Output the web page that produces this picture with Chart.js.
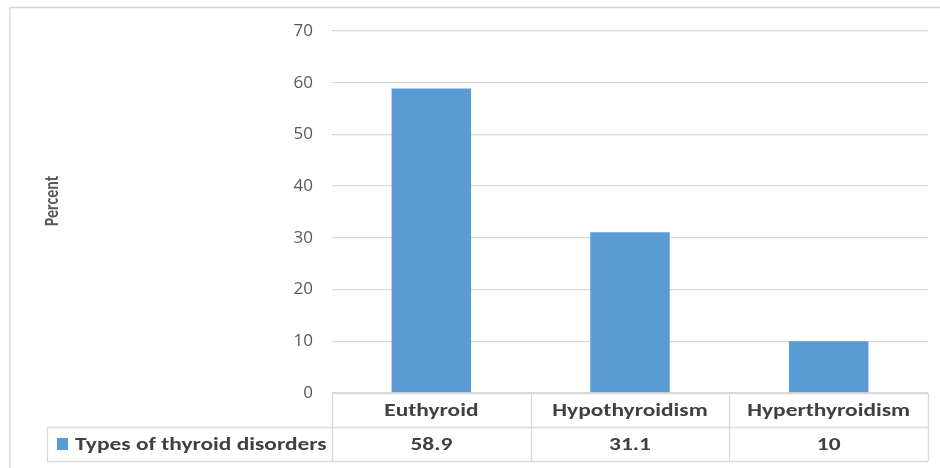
<!DOCTYPE html>
<html>
<head>
<meta charset="utf-8">
<script src="https://cdn.jsdelivr.net/npm/chart.js@4/dist/chart.umd.min.js"></script>
<style>
  html, body { margin: 0; padding: 0; background: #ffffff; }
  #wrap { width: 940px; height: 468px; position: relative; }
</style>
</head>
<body>
<div id="wrap"><canvas id="chart" width="940" height="468"></canvas></div>
<script>
// Thyroid status distribution (percent)
const categories = ['Euthyroid', 'Hypothyroidism', 'Hyperthyroidism'];
const seriesName = 'Types of thyroid disorders';
const seriesValues = [58.9, 31.1, 10];
const yTicks = [0, 10, 20, 30, 40, 50, 60, 70];
const yTitle = 'Percent';

const FONT = 'Carlito, Lato, "Open Sans", sans-serif';
const TICK_FONT = '"Open Sans", Lato, sans-serif';
const BAR = '#5b9bd5';
const LINE = '#d9d9d9';
const STRETCH = 1.3; // wide text proportions

// text drawn with a horizontal stretch, anchored at (x, y)
function wideText(ctx, str, x, y, align) {
  ctx.save();
  ctx.translate(x, y);
  ctx.scale(STRETCH, 1);
  ctx.textAlign = align;
  ctx.fillText(str, 0, 0);
  ctx.restore();
}

// Draws the frame, the axis title and the data table under the plot area
const dataTablePlugin = {
  id: 'dataTable',
  afterDraw(chart) {
    const ctx = chart.ctx;
    const area = chart.chartArea;
    const x = chart.scales.x;
    const n = categories.length;
    const colW = (area.right - area.left) / n;
    const rowH = 34;
    const top = area.bottom;
    const mid = top + rowH;
    const bot = top + rowH * 2;
    const legendLeft = 47;

    ctx.save();
    // outer frame
    ctx.strokeStyle = LINE;
    ctx.lineWidth = 1.5;
    ctx.beginPath();
    ctx.moveTo(10, 480);
    ctx.lineTo(10, 7.5);
    ctx.lineTo(950, 7.5);
    ctx.stroke();

    // table grid
    ctx.lineWidth = 1.3;
    ctx.beginPath();
    ctx.moveTo(area.left, top + 0.5); ctx.lineTo(area.right, top + 0.5);
    ctx.moveTo(legendLeft, mid + 0.5); ctx.lineTo(area.right, mid + 0.5);
    ctx.moveTo(legendLeft, bot + 0.5); ctx.lineTo(area.right, bot + 0.5);
    ctx.moveTo(legendLeft + 0.5, mid); ctx.lineTo(legendLeft + 0.5, bot);
    for (let i = 0; i <= n; i++) {
      const xx = Math.round(area.left + colW * i) + 0.5;
      ctx.moveTo(xx, top); ctx.lineTo(xx, bot);
    }
    ctx.stroke();

    // category header and values
    ctx.fillStyle = '#404040';
    ctx.textBaseline = 'middle';
    ctx.font = 'bold 18px ' + FONT;
    categories.forEach((c, i) => {
      const cx = x.getPixelForValue(i);
      wideText(ctx, c, cx, top + rowH / 2 + 1, 'center');
      wideText(ctx, String(seriesValues[i]), cx, mid + rowH / 2 + 1, 'center');
    });

    // legend key and series name
    ctx.fillStyle = BAR;
    ctx.fillRect(57, mid + 11, 11, 12);
    ctx.fillStyle = '#404040';
    wideText(ctx, seriesName, 75, mid + rowH / 2 + 1, 'left');

    // axis title
    ctx.translate(53, 201);
    ctx.rotate(-Math.PI / 2);
    ctx.scale(1, STRETCH);
    ctx.textAlign = 'center';
    ctx.fillStyle = '#595959';
    ctx.font = 'bold 16px ' + FONT;
    ctx.fillText(yTitle, 0, 0);
    ctx.restore();
  }
};

new Chart(document.getElementById('chart'), {
  type: 'bar',
  data: {
    labels: categories,
    datasets: [{
      label: seriesName,
      data: seriesValues,
      backgroundColor: BAR,
      borderWidth: 0,
      categoryPercentage: 1,
      barPercentage: 0.4
    }]
  },
  options: {
    responsive: false,
    animation: false,
    devicePixelRatio: 1,
    layout: { padding: { top: 31, right: 12, bottom: 75, left: 0 } },
    plugins: {
      legend: { display: false },
      tooltip: { enabled: false },
      title: { display: false }
    },
    scales: {
      x: { display: false, offset: true },
      y: {
        min: 0,
        max: 70,
        afterBuildTicks(scale) { scale.ticks = yTicks.map(v => ({ value: v })); },
        afterFit(scale) { scale.width = 332; },
        border: { display: false },
        grid: { color: LINE, lineWidth: 1.3, drawTicks: false },
        ticks: {
          padding: 19,
          color: '#595959',
          font: { family: TICK_FONT, size: 17 }
        }
      }
    }
  },
  plugins: [dataTablePlugin]
});
</script>
</body>
</html>
